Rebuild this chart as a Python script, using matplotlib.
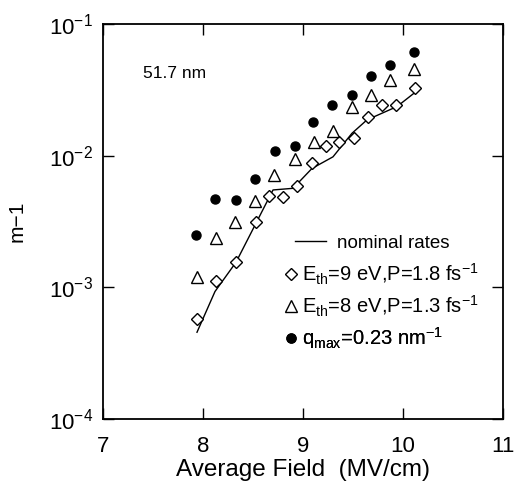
import matplotlib
matplotlib.use("Agg")
import matplotlib.pyplot as plt
from matplotlib.lines import Line2D

plt.rcParams['font.family'] = ['Liberation Sans', 'DejaVu Sans']
plt.rcParams['mathtext.fontset'] = 'custom'
plt.rcParams['mathtext.rm'] = 'Liberation Sans'
plt.rcParams['mathtext.it'] = 'Liberation Sans'

# nominal rates (line)
line_x = [7.94, 8.12, 8.33, 8.53, 8.70, 8.90, 9.09, 9.30, 9.49, 9.64, 9.94, 10.11]
line_y = [4.56e-4, 9.3e-4, 1.55e-3, 3.07e-3, 5.49e-3, 5.65e-3, 8.0e-3, 9.8e-3, 1.48e-2, 1.87e-2, 2.36e-2, 2.98e-2]

# Eth=9 eV, P=1.8 fs^-1 (diamonds)
dia_x = [7.94, 8.13, 8.33, 8.53, 8.66, 8.80, 8.94, 9.09, 9.23, 9.36, 9.51, 9.65, 9.79, 9.93, 10.12]
dia_y = [5.75e-4, 1.12e-3, 1.55e-3, 3.11e-3, 4.94e-3, 4.83e-3, 5.92e-3, 8.85e-3, 1.19e-2, 1.26e-2, 1.36e-2, 1.97e-2, 2.44e-2, 2.44e-2, 3.27e-2]

# Eth=8 eV, P=1.3 fs^-1 (triangles)
tri_x = [7.94, 8.13, 8.32, 8.52, 8.71, 8.92, 9.11, 9.30, 9.49, 9.68, 9.87, 10.11]
tri_y = [1.19e-3, 2.36e-3, 3.15e-3, 4.53e-3, 7.14e-3, 9.39e-3, 1.28e-2, 1.54e-2, 2.36e-2, 2.90e-2, 3.76e-2, 4.55e-2]

# qmax=0.23 nm^-1 (filled circles)
cir_x = [7.93, 8.12, 8.33, 8.52, 8.72, 8.92, 9.10, 9.29, 9.49, 9.68, 9.87, 10.11]
cir_y = [2.50e-3, 4.67e-3, 4.61e-3, 6.69e-3, 1.09e-2, 1.19e-2, 1.81e-2, 2.41e-2, 2.87e-2, 4.03e-2, 4.86e-2, 6.10e-2]

xticks = [7, 8, 9, 10, 11]
yticks = [1e-4, 1e-3, 1e-2, 1e-1]
yticklabels = ['$10^{-4}$', '$10^{-3}$', '$10^{-2}$', '$10^{-1}$']

labels = ['nominal rates',
          'E$_{\\mathrm{th}}$=9 eV,P=1.8 fs$^{-1}$',
          'E$_{\\mathrm{th}}$=8 eV,P=1.3 fs$^{-1}$',
          'q$_{\\mathrm{max}}$=0.23 nm$^{-1}$']

W, H = 515, 487
L, R, T, B = 103, 503, 24, 419
fig = plt.figure(figsize=(W / 100, H / 100), dpi=100)
ax = fig.add_axes([L / W, 1 - B / H, (R - L) / W, (B - T) / H])

h_line, = ax.plot(line_x, line_y, '-', color='black', lw=1.0)
h_dia, = ax.plot(dia_x, dia_y, 'D', ms=6.5, mfc='white', mec='black', mew=1.0, ls='none')
h_tri, = ax.plot(tri_x, tri_y, '^', ms=8.5, mfc='white', mec='black', mew=1.0, ls='none')
h_cir, = ax.plot(cir_x, cir_y, 'o', ms=6.5, color='black', ls='none')

ax.set_yscale('log')
ax.set_xlim(7, 11)
ax.set_ylim(1e-4, 1e-1)
ax.set_xticks(xticks)
ax.set_xticklabels([str(t) for t in xticks])
ax.set_yticks(yticks)
ax.set_yticklabels(yticklabels)
ax.yaxis.set_minor_locator(matplotlib.ticker.NullLocator())
ax.tick_params(direction='in', length=8, width=1, top=True, right=True,
               labelsize=16)
ax.tick_params(axis='x', pad=12)
ax.tick_params(axis='y', pad=7)
for s in ax.spines.values():
    s.set_linewidth(1.3)

ax.set_xlabel('Average Field  (MV/cm)', fontsize=17.5, labelpad=2)
ax.set_ylabel('m\u22121', fontsize=15)
ax.yaxis.set_label_coords((27 - L) / (R - L), 0.5)

ax.text((143 - L) / (R - L), 1 - (78 - T) / (B - T), '51.7 nm',
        transform=ax.transAxes, fontsize=12.5, va='baseline')

def fx(px):
    return (px - L) / (R - L)

def fy(py):
    return 1 - (py - T) / (B - T)

rows = [(h_line, labels[0], 295, 243, 1.67, 0.55, 13.5),
        (h_dia, labels[1], 285, 274, 0.6, 0.25, 14.5),
        (h_tri, labels[2], 285, 306, 0.6, 0.25, 14.5),
        (h_cir, labels[3], 285, 338, 0.6, 0.25, 14.5)]
for h, lab, px, py, hl, pad, fs in rows:
    lg = ax.legend([h], [lab], loc='center left', bbox_to_anchor=(fx(px), fy(py)),
                   frameon=False, fontsize=fs, handlelength=hl, handletextpad=pad,
                   borderpad=0, borderaxespad=0, numpoints=1)
    ax.add_artist(lg)

fig.savefig('out.png', dpi=100)
